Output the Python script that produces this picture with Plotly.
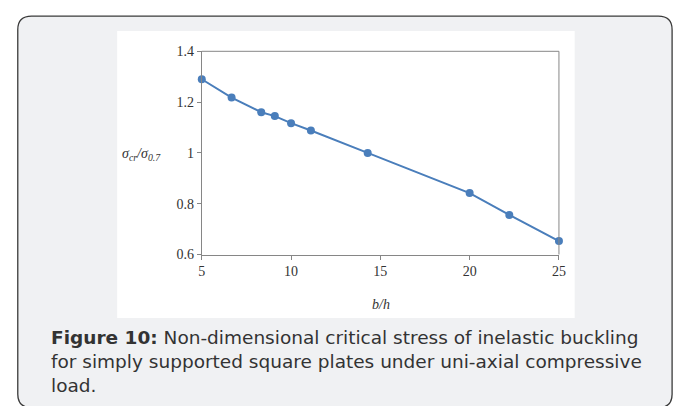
import plotly.graph_objects as go

# Data
b_over_h = [5, 6.67, 8.33, 9.09, 10, 11.11, 14.29, 20, 22.22, 25]
stress_ratio = [1.29, 1.218, 1.160, 1.145, 1.117, 1.088, 1.000, 0.842, 0.756, 0.653]
y_tickvals = [0.6, 0.8, 1.0, 1.2, 1.4]
y_ticktext = ["0.6", "0.8", "1", "1.2", "1.4"]
x_tickvals = [5, 10, 15, 20, 25]
caption_lines = [
    "<b>Figure 10:</b> Non-dimensional critical stress of inelastic buckling",
    "for simply supported square plates under uni-axial compressive",
    "load.",
]

W, H = 685, 406
def px(x):
    return x / W
def py(y):
    return 1 - y / H

BLUE = "#4a7ebb"
AXIS = "#868686"
SERIF = "Liberation Serif, Times New Roman, serif"

fig = go.Figure()
fig.add_trace(go.Scatter(
    x=b_over_h, y=stress_ratio, mode="lines+markers",
    line=dict(color=BLUE, width=2),
    marker=dict(color=BLUE, size=8),
    cliponaxis=False, showlegend=False,
))

# rounded outer border (bottom edge runs off the page)
x0, y0, x1, y1, r = 14, 9.5, 679, 416, 14
rx, ry = r / W, r / H
X0, Y0, X1, Y1 = px(x0), py(y0), px(x1), py(y1)
path = (f"M {X0+rx},{Y0} L {X1-rx},{Y0} Q {X1},{Y0} {X1},{Y0-ry} "
        f"L {X1},{Y1+ry} Q {X1},{Y1} {X1-rx},{Y1} "
        f"L {X0+rx},{Y1} Q {X0},{Y1} {X0},{Y1+ry} "
        f"L {X0},{Y0-ry} Q {X0},{Y0} {X0+rx},{Y0} Z")

shapes = [
    dict(type="path", xref="paper", yref="paper", path=path,
         line=dict(color="#3a3a3a", width=1.3), fillcolor="#f0f1f3", layer="below"),
    dict(type="rect", xref="paper", yref="paper",
         x0=px(115), x1=px(580), y0=py(323), y1=py(25),
         line=dict(width=0), fillcolor="white", layer="below"),
    # top and right frame of the plot area
    dict(type="line", xref="paper", yref="paper",
         x0=px(201), x1=px(564), y0=py(46), y1=py(46),
         line=dict(color=AXIS, width=1)),
    dict(type="line", xref="paper", yref="paper",
         x0=px(564), x1=px(564), y0=py(46), y1=py(257),
         line=dict(color=AXIS, width=1)),
]

annotations = [
    dict(xref="paper", yref="paper", x=px(118), y=py(153), xanchor="left", yanchor="middle",
         text="<i>σ<sub>cr</sub>/σ<sub>0.7</sub></i>", showarrow=False,
         font=dict(family=SERIF, size=14, color="#333333")),
    dict(xref="paper", yref="paper", x=px(383), y=py(309), xanchor="center", yanchor="middle",
         text="<i>b/h</i>", showarrow=False,
         font=dict(family=SERIF, size=14, color="#333333")),
]
caption_y = [343, 368, 393]
for line, yy in zip(caption_lines, caption_y):
    annotations.append(dict(
        xref="paper", yref="paper", x=px(46), y=py(yy), xanchor="left", yanchor="middle",
        text=line, showarrow=False,
        font=dict(family="DejaVu Sans, Liberation Sans, sans-serif", size=18.5, color="#333333")))

fig.update_layout(
    width=W, height=H, margin=dict(l=0, r=0, t=0, b=0),
    paper_bgcolor="white", plot_bgcolor="rgba(0,0,0,0)",
    shapes=shapes, annotations=annotations,
    xaxis=dict(domain=[px(201), px(564)], range=[5, 25], tickvals=x_tickvals,
               showgrid=False, zeroline=False, showline=True, linecolor=AXIS, linewidth=1,
               ticks="outside", ticklen=4, tickcolor=AXIS,
               tickfont=dict(family=SERIF, size=14, color="#333333")),
    yaxis=dict(domain=[py(257), py(46)], range=[0.6, 1.4], tickvals=y_tickvals, ticktext=y_ticktext,
               showgrid=False, zeroline=False, showline=True, linecolor=AXIS, linewidth=1,
               ticks="outside", ticklen=4, tickcolor=AXIS,
               tickfont=dict(family=SERIF, size=14, color="#333333")),
)

fig.write_html("out.html")
